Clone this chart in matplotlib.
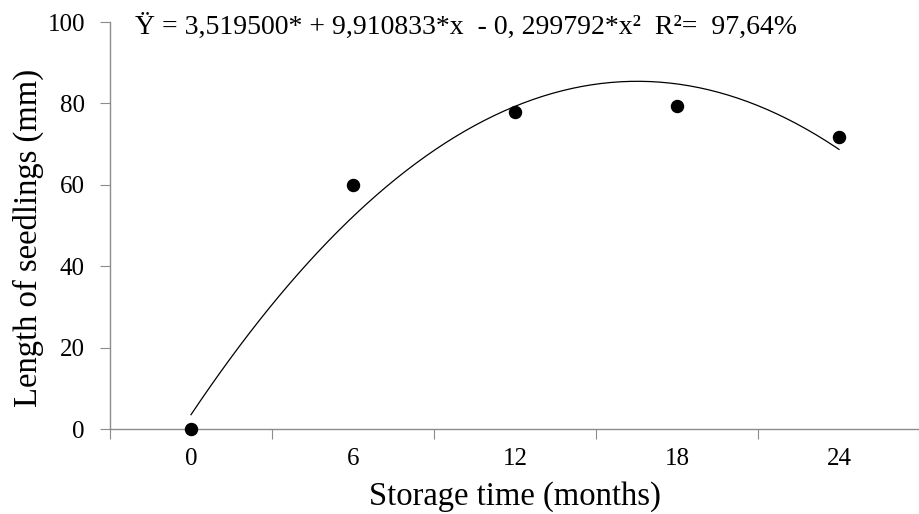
import numpy as np
import matplotlib
matplotlib.use("Agg")
import matplotlib.pyplot as plt

months = [0, 6, 12, 18, 24]
length_mm = [0.0, 60.0, 78.0, 79.3, 71.8]
coef = [3.519500, 9.910833, -0.299792]
xtick_labels = ["0", "6", "12", "18", "24"]
yticks = [0, 20, 40, 60, 80, 100]

plt.rcParams['font.family'] = ['Liberation Serif', 'DejaVu Serif']

fig = plt.figure(figsize=(9.2, 5.14), dpi=100)
ax = fig.add_axes([110/920, 1-429/514, 1-110/920, (429-22)/514])

ax.scatter(months, length_mm, s=75, color='black', zorder=3, clip_on=False)
xs = np.linspace(0, 24, 200)
ys = coef[0] + coef[1]*xs + coef[2]*xs**2
ax.plot(xs, ys, color='black', lw=0.9)

ax.set_xlim(-3, 27)
ax.set_ylim(0, 100)
ax.set_xticks([-3, 3, 9, 15, 21])
ax.set_xticklabels([])
ax.set_xticks(months, minor=True)
ax.set_xticklabels(xtick_labels, minor=True, fontsize=18)
ax.tick_params(axis='x', which='minor', length=0, pad=14)
ax.tick_params(axis='x', which='major', length=7, color='#8c8c8c', direction='out')
ax.set_yticks(yticks)
ax.set_yticklabels([str(v) for v in yticks], fontsize=18)
ax.tick_params(axis='y', length=7, color='#8c8c8c', direction='out', pad=11)

for s in ['top', 'right']:
    ax.spines[s].set_visible(False)
for s in ['left', 'bottom']:
    ax.spines[s].set_color('#8c8c8c')
    ax.spines[s].set_linewidth(1.0)

ax.set_xlabel('Storage time (months)', fontsize=23.5, labelpad=8)
ax.set_ylabel('Length of seedlings (mm)', fontsize=23.5)
ax.yaxis.set_label_coords(-0.082, 0.47)

fig.text(135/920, 1-27/514, 'Ÿ = 3,519500* + 9,910833*x  - 0, 299792*x²  R²=  97,64%',
         fontsize=20, va='center', ha='left')

fig.savefig('out.png', dpi=100)
